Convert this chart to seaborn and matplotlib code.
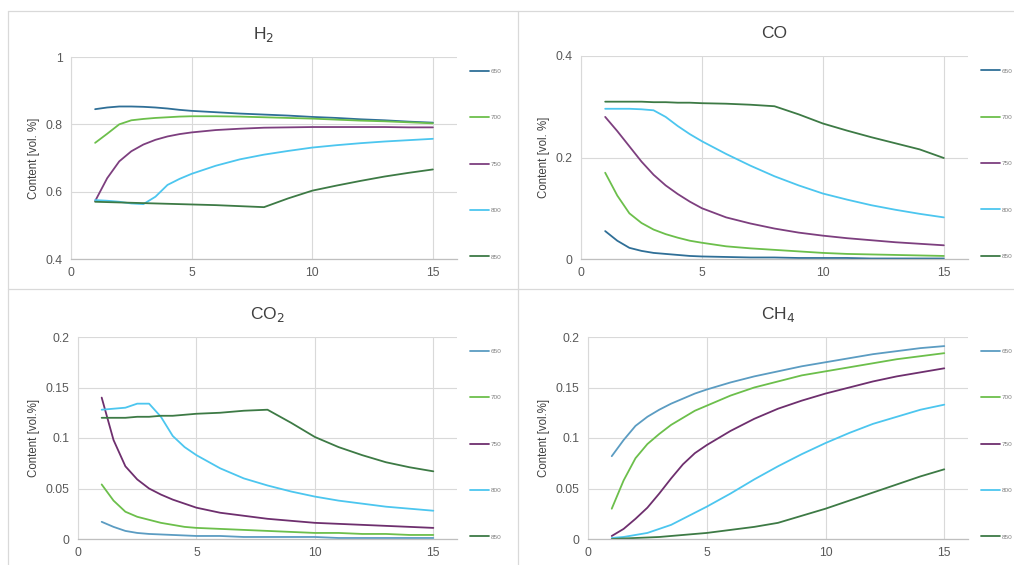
import numpy as np
import pandas as pd
import matplotlib
matplotlib.use("Agg")
import matplotlib.pyplot as plt
from matplotlib.lines import Line2D
import seaborn as sns

# ---------------- data ----------------
time = [1, 1.5, 2, 2.5, 3, 3.5, 4, 4.5, 5, 6, 7, 8, 9, 10, 11, 12, 13, 14, 15]
temps = ["650", "700", "750", "800", "850"]

h2_650 = [0.845, 0.850, 0.853, 0.853, 0.852, 0.850, 0.847, 0.843, 0.840, 0.836, 0.832, 0.829, 0.826, 0.822, 0.819, 0.815, 0.812, 0.808, 0.805]
h2_700 = [0.745, 0.772, 0.800, 0.812, 0.816, 0.819, 0.821, 0.823, 0.824, 0.824, 0.823, 0.821, 0.819, 0.817, 0.814, 0.811, 0.809, 0.806, 0.803]
h2_750 = [0.572, 0.640, 0.690, 0.720, 0.740, 0.754, 0.764, 0.771, 0.776, 0.783, 0.787, 0.790, 0.791, 0.792, 0.792, 0.792, 0.792, 0.791, 0.791]
h2_800 = [0.575, 0.573, 0.570, 0.565, 0.563, 0.585, 0.620, 0.638, 0.653, 0.677, 0.696, 0.710, 0.721, 0.731, 0.738, 0.744, 0.749, 0.753, 0.757]
h2_850 = [0.570, 0.569, 0.568, 0.567, 0.566, 0.565, 0.564, 0.563, 0.562, 0.560, 0.557, 0.554, 0.580, 0.603, 0.618, 0.632, 0.645, 0.656, 0.666]

co_650 = [0.055, 0.036, 0.022, 0.016, 0.012, 0.010, 0.008, 0.006, 0.005, 0.004, 0.003, 0.003, 0.002, 0.002, 0.002, 0.001, 0.001, 0.001, 0.001]
co_700 = [0.170, 0.125, 0.090, 0.071, 0.058, 0.049, 0.042, 0.036, 0.032, 0.025, 0.021, 0.018, 0.015, 0.012, 0.010, 0.009, 0.008, 0.007, 0.006]
co_750 = [0.280, 0.252, 0.222, 0.192, 0.166, 0.145, 0.128, 0.113, 0.100, 0.082, 0.070, 0.060, 0.052, 0.046, 0.041, 0.037, 0.033, 0.030, 0.027]
co_800 = [0.296, 0.296, 0.296, 0.295, 0.293, 0.280, 0.262, 0.246, 0.232, 0.207, 0.184, 0.163, 0.145, 0.129, 0.117, 0.106, 0.097, 0.089, 0.082]
co_850 = [0.310, 0.310, 0.310, 0.310, 0.309, 0.309, 0.308, 0.308, 0.307, 0.306, 0.304, 0.301, 0.285, 0.267, 0.253, 0.240, 0.228, 0.216, 0.199]

co2_650 = [0.017, 0.012, 0.008, 0.006, 0.005, 0.0045, 0.004, 0.0035, 0.003, 0.003, 0.002, 0.002, 0.002, 0.002, 0.001, 0.001, 0.001, 0.001, 0.001]
co2_700 = [0.054, 0.038, 0.027, 0.022, 0.019, 0.016, 0.014, 0.012, 0.011, 0.010, 0.009, 0.008, 0.007, 0.006, 0.006, 0.005, 0.005, 0.004, 0.004]
co2_750 = [0.140, 0.098, 0.072, 0.059, 0.050, 0.044, 0.039, 0.035, 0.031, 0.026, 0.023, 0.020, 0.018, 0.016, 0.015, 0.014, 0.013, 0.012, 0.011]
co2_800 = [0.128, 0.129, 0.130, 0.134, 0.134, 0.121, 0.102, 0.091, 0.083, 0.070, 0.060, 0.053, 0.047, 0.042, 0.038, 0.035, 0.032, 0.030, 0.028]
co2_850 = [0.120, 0.120, 0.120, 0.121, 0.121, 0.122, 0.122, 0.123, 0.124, 0.125, 0.127, 0.128, 0.115, 0.101, 0.091, 0.083, 0.076, 0.071, 0.067]

ch4_650 = [0.082, 0.098, 0.112, 0.121, 0.128, 0.134, 0.139, 0.144, 0.148, 0.155, 0.161, 0.166, 0.171, 0.175, 0.179, 0.183, 0.186, 0.189, 0.191]
ch4_700 = [0.030, 0.058, 0.080, 0.094, 0.104, 0.113, 0.120, 0.127, 0.132, 0.142, 0.150, 0.156, 0.162, 0.166, 0.170, 0.174, 0.178, 0.181, 0.184]
ch4_750 = [0.003, 0.010, 0.020, 0.031, 0.045, 0.060, 0.074, 0.085, 0.093, 0.107, 0.119, 0.129, 0.137, 0.144, 0.150, 0.156, 0.161, 0.165, 0.169]
ch4_800 = [0.001, 0.002, 0.004, 0.006, 0.010, 0.014, 0.020, 0.026, 0.032, 0.045, 0.059, 0.072, 0.084, 0.095, 0.105, 0.114, 0.121, 0.128, 0.133]
ch4_850 = [0.000, 0.0005, 0.001, 0.0015, 0.002, 0.003, 0.004, 0.005, 0.006, 0.009, 0.012, 0.016, 0.023, 0.030, 0.038, 0.046, 0.054, 0.062, 0.069]

x_ticks = [0, 5, 10, 15]
h2_yticks = [0.4, 0.6, 0.8, 1.0]
h2_ylabels = ["0.4", "0.6", "0.8", "1"]
co_yticks = [0.0, 0.2, 0.4]
co_ylabels = ["0", "0.2", "0.4"]
small_yticks = [0.0, 0.05, 0.1, 0.15, 0.2]
small_ylabels = ["0", "0.05", "0.1", "0.15", "0.2"]

# ---------------- style ----------------
sns.set_theme(style="white")
plt.rcParams["font.family"] = ["Liberation Sans", "DejaVu Sans"]

colors = {"650": "#2f6f97", "700": "#6cbf4b", "750": "#7d3f7f", "800": "#4cc6ef", "850": "#3d7a45"}
colors_b = {"650": "#5b9cc2", "700": "#6cbf4b", "750": "#6e2f6e", "800": "#4cc6ef", "850": "#3d7a45"}

def long_df(series):
    rows = []
    for t, vals in zip(temps, series):
        for xv, yv in zip(time, vals):
            rows.append({"time": xv, "content": yv, "T": t})
    return pd.DataFrame(rows)

panels = [
    dict(title="H$_2$", series=[h2_650, h2_700, h2_750, h2_800, h2_850], ylim=(0.4, 1.0),
         yticks=h2_yticks, ylabels=h2_ylabels, ylab="Content [vol. %]", pal=colors,
         pos=[71, 457, 57, 259]),
    dict(title="CO", series=[co_650, co_700, co_750, co_800, co_850], ylim=(0.0, 0.4),
         yticks=co_yticks, ylabels=co_ylabels, ylab="Content [vol. %]", pal=colors,
         pos=[581, 968, 56, 259]),
    dict(title="CO$_2$", series=[co2_650, co2_700, co2_750, co2_800, co2_850], ylim=(0.0, 0.2),
         yticks=small_yticks, ylabels=small_ylabels, ylab="Content [vol.%]", pal=colors_b,
         pos=[78, 457, 337, 539]),
    dict(title="CH$_4$", series=[ch4_650, ch4_700, ch4_750, ch4_800, ch4_850], ylim=(0.0, 0.2),
         yticks=small_yticks, ylabels=small_ylabels, ylab="Content [vol.%]", pal=colors_b,
         pos=[588, 968, 337, 539]),
]

W, H = 1014, 565
fig = plt.figure(figsize=(W / 100, H / 100), dpi=100)
fig.patch.set_facecolor("white")

# panel separator lines
sep = "#d9d9d9"
fig.add_artist(Line2D([8 / W, 1.0], [1 - 11 / H, 1 - 11 / H], color=sep, lw=0.9))
fig.add_artist(Line2D([8 / W, 8 / W], [0, 1 - 11 / H], color=sep, lw=0.9))
fig.add_artist(Line2D([518 / W, 518 / W], [0, 1 - 11 / H], color=sep, lw=0.9))
fig.add_artist(Line2D([8 / W, 1.0], [1 - 289 / H, 1 - 289 / H], color=sep, lw=0.9))

for p in panels:
    l, r, t, b = p["pos"]
    ax = fig.add_axes([l / W, 1 - b / H, (r - l) / W, (b - t) / H])
    df = long_df(p["series"])
    sns.lineplot(data=df, x="time", y="content", hue="T", palette=p["pal"],
                 hue_order=temps, linewidth=1.3, ax=ax, legend=False)
    ax.set_xlim(0, 16)
    ax.set_ylim(*p["ylim"])
    ax.set_xticks(x_ticks)
    ax.set_xticklabels([str(v) for v in x_ticks])
    ax.set_yticks(p["yticks"])
    ax.set_yticklabels(p["ylabels"])
    ax.grid(True, color="#d9d9d9", lw=0.8)
    ax.set_axisbelow(True)
    for s in ["top", "right"]:
        ax.spines[s].set_visible(False)
    ax.spines["left"].set_color("#d9d9d9")
    ax.spines["bottom"].set_color("#bfbfbf")
    ax.spines["left"].set_linewidth(0.8)
    ax.spines["bottom"].set_linewidth(0.9)
    ax.tick_params(axis="both", length=0, labelsize=8.8, colors="#595959", pad=6)
    ax.set_xlabel("")
    ax.set_ylabel(p["ylab"], fontsize=8.3, color="#404040", labelpad=4)
    ax.set_title(p["title"], fontsize=12.5, color="#404040", pad=13)
    handles = [Line2D([0], [0], color=p["pal"][tt], lw=1.3) for tt in temps]
    ax.legend(handles, temps, loc="center left", bbox_to_anchor=(1.02, 0.47),
              frameon=False, fontsize=4.6, labelspacing=6.4, handlelength=2.9,
              handletextpad=0.3, labelcolor="#7f7f7f")

fig.savefig("out.png", dpi=100, facecolor="white")
